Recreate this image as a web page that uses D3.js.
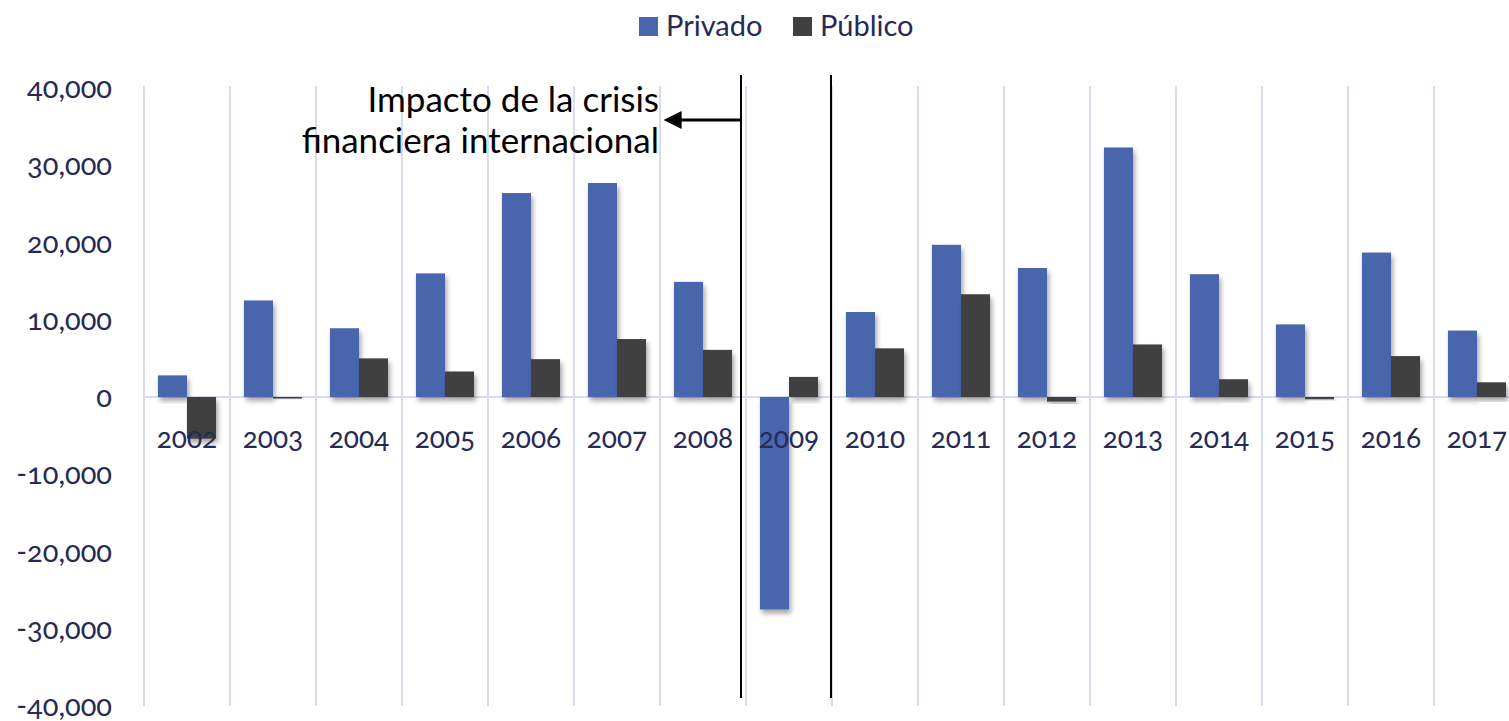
<!DOCTYPE html>
<html>
<head>
<meta charset="utf-8">
<script src="https://cdn.jsdelivr.net/npm/d3@7"></script>
<style>
  body{margin:0;background:#fff;}
  svg{display:block;}
  text{font-family:Lato,"Open Sans",sans-serif;}
  .num{font-variant-numeric:oldstyle-nums;font-feature-settings:"onum" 1;}
</style>
</head>
<body>
<svg id="chart" width="1509" height="721"></svg>
<script>
const years=["2002","2003","2004","2005","2006","2007","2008","2009","2010","2011","2012","2013","2014","2015","2016","2017"];
const privado=[2800,12500,8900,16000,26400,27700,14900,-27500,11000,19700,16700,32300,15900,9400,18700,8600];
const publico=[-5400,-200,5000,3300,4900,7500,6100,2600,6300,13300,-600,6800,2300,-300,5300,1900];
const yTicks=[40000,30000,20000,10000,0,-10000,-20000,-30000,-40000];
const seriesNames=["Privado","Público"];
const seriesColors=["#4865ae","#404040"];

const svg=d3.select("#chart");
const plotL=144, plotR=1520, plotT=88, plotB=706;

const x=d3.scaleBand().domain(years).range([plotL,plotR]).paddingInner(0).paddingOuter(0);
const x1=d3.scaleBand().domain(seriesNames).range([0,x.bandwidth()]).paddingInner(0).paddingOuter(0.48);
const y=d3.scaleLinear().domain([-40000,40000]).range([plotB,plotT]);
const fmt=d=>d3.format(",")(d).replace("−","-");

const defs=svg.append("defs");
const f=defs.append("filter").attr("id","shadow").attr("x","-30%").attr("y","-30%").attr("width","160%").attr("height","160%");
f.append("feDropShadow").attr("dx",2).attr("dy",4).attr("stdDeviation",2.5).attr("flood-color","#000").attr("flood-opacity",0.35);
defs.append("marker").attr("id","arrow").attr("viewBox","0 0 10 10").attr("refX",2).attr("refY",5)
  .attr("markerWidth",6).attr("markerHeight",6).attr("orient","auto-start-reverse")
  .append("path").attr("d","M 0 0 L 10 5 L 0 10 z").attr("fill","#000");

// vertical gridlines at category boundaries
const bounds=years.map(d=>x(d)).concat([plotR]);
svg.append("g").selectAll("line").data(bounds).join("line")
  .attr("x1",d=>d).attr("x2",d=>d).attr("y1",plotT-2).attr("y2",plotB)
  .attr("stroke","#d9dbee").attr("stroke-width",2);

// y tick labels
svg.append("g").selectAll("text").data(yTicks).join("text")
  .attr("class","num")
  .attr("x",112).attr("y",d=>y(d)).attr("dy","0.35em")
  .attr("text-anchor","end").attr("font-size",29).attr("fill","#262a55")
  .text(fmt);

// zero line
svg.append("line").attr("x1",plotL).attr("x2",plotR).attr("y1",y(0)).attr("y2",y(0))
  .attr("stroke","#d9dbee").attr("stroke-width",2);

// bars
const rows=years.map((yr,i)=>({yr,vals:[privado[i],publico[i]]}));
const grp=svg.append("g").selectAll("g").data(rows).join("g")
  .attr("transform",d=>`translate(${x(d.yr)},0)`);
grp.selectAll("rect").data(d=>d.vals.map((v,j)=>({v,s:seriesNames[j],c:seriesColors[j]}))).join("rect")
  .attr("x",d=>x1(d.s)).attr("width",x1.bandwidth())
  .attr("y",d=>y(Math.max(0,d.v))).attr("height",d=>Math.max(1.5,Math.abs(y(d.v)-y(0))))
  .attr("fill",d=>d.c).attr("filter","url(#shadow)");

// year labels (drawn over bars)
svg.append("g").selectAll("text").data(years).join("text")
  .attr("class","num")
  .attr("x",d=>x(d)+x.bandwidth()/2).attr("y",448)
  .attr("text-anchor","middle").attr("font-size",28).attr("fill","#262a55")
  .text(d=>d);

// crisis markers
[741,831].forEach(xx=>{
  svg.append("line").attr("x1",xx).attr("x2",xx).attr("y1",75).attr("y2",698)
    .attr("stroke","#000").attr("stroke-width",2);
});
svg.append("line").attr("x1",741).attr("x2",678).attr("y1",120).attr("y2",120)
  .attr("stroke","#000").attr("stroke-width",3).attr("marker-end","url(#arrow)");
const ann=svg.append("text").attr("text-anchor","end").attr("font-size",35).attr("fill","#000");
ann.append("tspan").attr("x",659).attr("y",112).text("Impacto de la crisis");
ann.append("tspan").attr("x",659).attr("y",153).text("financiera internacional");

// legend
const leg=svg.append("g");
const legX=[639,793];
seriesNames.forEach((s,i)=>{
  leg.append("rect").attr("x",legX[i]).attr("y",17).attr("width",19).attr("height",19).attr("fill",seriesColors[i]);
  leg.append("text").attr("x",legX[i]+27).attr("y",26).attr("dy","0.35em")
    .attr("font-size",29).attr("fill","#262a55").text(s);
});
</script>
</body>
</html>
